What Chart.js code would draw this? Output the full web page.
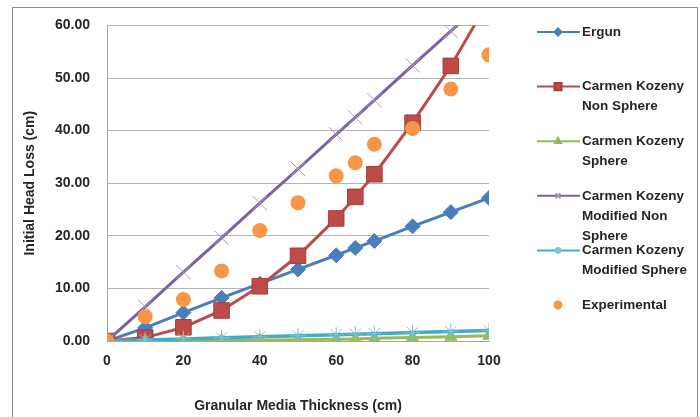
<!DOCTYPE html>
<html>
<head>
<meta charset="utf-8">
<script src="https://cdn.jsdelivr.net/npm/chart.js@4.4.1/dist/chart.umd.min.js"></script>
<style>
    html, body { margin: 0; padding: 0; background: #fff; }
    #wrap { position: relative; width: 700px; height: 417px; }
    #frame { position: absolute; left: 12px; top: 7px; width: 684px; height: 420px; border: 1px solid #8c8c8c; pointer-events: none; }
</style>
</head>
<body>
<div id="wrap">
    <canvas id="chart" width="700" height="417"></canvas>
    <div id="frame"></div>
</div>
<script>
// Granular media thickness (cm)
const thickness = [0, 10, 20, 30, 40, 50, 60, 65, 70, 80, 90, 100];

// Initial head loss (cm), one array per model
const ergun = [0, 2.5, 5.4, 8.2, 10.9, 13.6, 16.3, 17.7, 19.0, 21.8, 24.5, 27.2];
const ckNonSphere = [0, 0.65, 2.6, 5.8, 10.4, 16.2, 23.3, 27.4, 31.7, 41.5, 52.3, 64.8];
const ckSphere = [0, 0.02, 0.05, 0.1, 0.15, 0.25, 0.35, 0.4, 0.5, 0.65, 0.8, 1.0];
const ckModNonSphere = [0, 6.5, 13.1, 19.6, 26.2, 32.7, 39.3, 42.5, 45.8, 52.4, 58.9, 65.5];
const ckModSphere = [0, 0.2, 0.4, 0.6, 0.8, 1.0, 1.2, 1.3, 1.4, 1.6, 1.8, 2.0];
const experimental = [0, 4.6, 7.9, 13.3, 21.0, 26.3, 31.4, 33.9, 37.4, 40.4, 47.9, 54.4];

const seriesNames = ['Ergun', 'Carmen Kozeny Non Sphere', 'Carmen Kozeny Sphere',
    'Carmen Kozeny Modified Non Sphere', 'Carmen Kozeny Modified Sphere', 'Experimental'];
// how the legend wraps each name
const legendLines = [
    ['Ergun'],
    ['Carmen Kozeny', 'Non Sphere'],
    ['Carmen Kozeny', 'Sphere'],
    ['Carmen Kozeny', 'Modified Non', 'Sphere'],
    ['Carmen Kozeny', 'Modified Sphere'],
    ['Experimental'],
];

const xTicks = [0, 20, 40, 60, 80, 100];
const yTicks = [0, 10, 20, 30, 40, 50, 60];

const FONT = '"Liberation Sans", Arial, sans-serif';
const TEXT = '#262626';

function points(values) {
    return thickness.map((x, i) => ({ x: x, y: values[i] }));
}

// Legend drawn on the canvas, to the right of the plot (Excel style)
const sideLegend = {
    id: 'sideLegend',
    afterDraw(chart) {
        const ctx = chart.ctx;
        ctx.save();
        chart.data.datasets.forEach((ds, i) => {
            const y = 32 + i * 54.6;
            if (ds.showLine !== false) {
                ctx.strokeStyle = ds.borderColor;
                ctx.lineWidth = 2;
                ctx.beginPath();
                ctx.moveTo(537, y);
                ctx.lineTo(580, y);
                ctx.stroke();
            }
            ctx.fillStyle = ds.pointBackgroundColor;
            ctx.strokeStyle = ds.pointBorderColor;
            Chart.helpers.drawPoint(ctx, {
                pointStyle: ds.pointStyle,
                radius: ds.pointStyle === 'rect' ? 5 : 3.5,
                borderWidth: 1,
                rotation: 0
            }, 558, y);

            ctx.fillStyle = TEXT;
            ctx.font = 'bold 13.5px ' + FONT;
            ctx.textBaseline = 'middle';
            ctx.textAlign = 'left';
            legendLines[i].forEach((t, k) => ctx.fillText(t, 582, y + k * 20));
        });
        ctx.restore();
    }
};

const ctx = document.getElementById('chart').getContext('2d');
new Chart(ctx, {
    type: 'line',
    data: {
        datasets: [
            {
                label: seriesNames[0], data: points(ergun),
                borderColor: '#4a7ebb', borderWidth: 3,
                pointStyle: 'rectRot', pointRadius: 7.5,
                pointBackgroundColor: '#4a7ebb', pointBorderColor: '#4a7ebb', pointBorderWidth: 1,
                order: 5
            },
            {
                label: seriesNames[1], data: points(ckNonSphere),
                borderColor: '#be4b48', borderWidth: 3,
                pointStyle: 'rect', pointRadius: 11,
                pointBackgroundColor: '#be4b48', pointBorderColor: '#a33e3b', pointBorderWidth: 1,
                order: 4
            },
            {
                label: seriesNames[2], data: points(ckSphere),
                borderColor: '#98b954', borderWidth: 3,
                pointStyle: 'triangle', pointRadius: 7,
                pointBackgroundColor: '#98b954', pointBorderColor: '#98b954', pointBorderWidth: 1,
                order: 3
            },
            {
                label: seriesNames[3], data: points(ckModNonSphere),
                borderColor: '#7d60a0', borderWidth: 3,
                pointStyle: 'crossRot', pointRadius: 10,
                pointBackgroundColor: '#a898be', pointBorderColor: '#a898be', pointBorderWidth: 1,
                order: 2
            },
            {
                label: seriesNames[4], data: points(ckModSphere),
                borderColor: '#46aac5', borderWidth: 3.5,
                pointStyle: 'star', pointRadius: 8,
                pointBackgroundColor: '#7fc4d8', pointBorderColor: '#7fc4d8', pointBorderWidth: 1,
                order: 1
            },
            {
                label: seriesNames[5], data: points(experimental),
                showLine: false, borderColor: '#f79646',
                pointStyle: 'circle', pointRadius: 7.5,
                pointBackgroundColor: '#f79646', pointBorderColor: '#f79646', pointBorderWidth: 0,
                order: 0
            }
        ]
    },
    options: {
        responsive: false,
        animation: false,
        layout: { padding: { left: 12, top: 21, right: 211, bottom: 0 } },
        scales: {
            x: {
                type: 'linear', min: 0, max: 100,
                afterBuildTicks: axis => { axis.ticks = xTicks.map(v => ({ value: v })); },
                afterFit: axis => { axis.height = 76; },
                grid: { display: false, drawTicks: false },
                border: { display: true, color: '#a6a6a6' },
                ticks: { padding: 12, color: TEXT, font: { family: FONT, size: 14, weight: 'bold' } },
                title: {
                    display: true, text: 'Granular Media Thickness (cm)',
                    color: TEXT, padding: { bottom: 2 },
                    font: { family: FONT, size: 14, weight: 'bold' }
                }
            },
            y: {
                min: 0, max: 60,
                afterBuildTicks: axis => { axis.ticks = yTicks.map(v => ({ value: v })); },
                afterFit: axis => { axis.width = 95; },
                grid: { color: '#b3b3b3', drawTicks: false },
                border: { display: true, color: '#a6a6a6' },
                ticks: {
                    padding: 17, color: TEXT,
                    font: { family: FONT, size: 14, weight: 'bold' },
                    callback: v => v.toFixed(2)
                },
                title: {
                    display: true, text: 'Initial Head Loss (cm)',
                    color: TEXT, padding: { top: 10 },
                    font: { family: FONT, size: 14, weight: 'bold' }
                }
            }
        },
        plugins: {
            legend: { display: false },
            tooltip: { enabled: false }
        }
    },
    plugins: [sideLegend]
});
</script>
</body>
</html>
